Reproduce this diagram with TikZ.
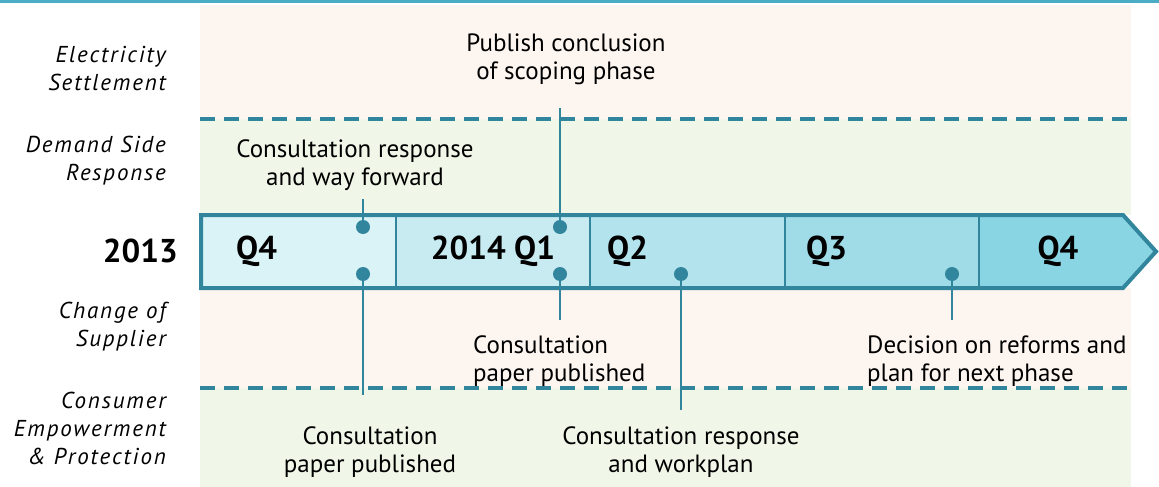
\documentclass[tikz,border=0pt]{standalone}
\usepackage{fontspec}
\setmainfont{PT Sans}
\newfontfamily\lanefont[LetterSpace=8]{PT Sans}
\usetikzlibrary{positioning,calc}

\definecolor{topbar}{RGB}{75,172,198}
\definecolor{tlrule}{RGB}{49,133,156}
\definecolor{peach}{RGB}{253,245,240}
\definecolor{leaf}{RGB}{240,247,232}
\definecolor{qa}{RGB}{218,243,246}
\definecolor{qb}{RGB}{200,235,241}
\definecolor{qc}{RGB}{179,228,238}
\definecolor{qd}{RGB}{160,220,231}
\definecolor{qe}{RGB}{138,213,227}

\begin{document}
\begin{tikzpicture}[
  x=1pt, y=-1pt,
  font=\fontsize{25}{28}\selectfont,
  quarter/.style={minimum height=73pt, inner sep=0pt, outer sep=0pt},
  qlbl/.style={font=\fontsize{33}{36}\selectfont\bfseries, inner sep=0pt},
  pin/.style={circle, fill=tlrule, inner sep=0pt, minimum size=14pt},
  stem/.style={line width=2.5pt, tlrule},
  note/.style={align=center, inner sep=0pt},
  lane/.style={font=\fontsize{23}{28}\selectfont\lanefont\itshape, align=right, anchor=east, inner sep=0pt},
  divider/.style={line width=2.5pt, tlrule},
  outline/.style={line width=4pt, tlrule},
  lanerule/.style={line width=4pt, tlrule, dash pattern=on 15pt off 9pt},
]
\useasboundingbox (0,0) rectangle (1159,487);

% Background lanes
\fill[topbar] (0,0) rectangle (1159,3.5);
\fill[peach] (200,5) rectangle (1131,119);
\fill[leaf] (200,119) rectangle (1131,215);
\fill[peach] (200,288) rectangle (1131,388);
\fill[leaf] (200,388) rectangle (1131,487);
\draw[lanerule] (200,119) -- (1131,119);
\draw[lanerule] (200,388) -- (1131,388);

% Lane names
\node[lane] (elec) at (166,68) {Electricity\\Settlement};
\node[lane] (dsr) at (166,161) {Demand Side\\Response};
\node[lane, font=\fontsize{33}{36}\selectfont\bfseries] (year) at (178,251) {2013};
\node[lane] (cos) at (166,327) {Change of\\Supplier};
\node[lane] (cep) at (166,428) {Consumer\\Empowerment\\\& Protection};

% Timeline quarters
\node[quarter, fill=qa, minimum width=195pt] (q4a) at (298.5,251.5) {};
\node[quarter, fill=qb, minimum width=194pt, right=0pt of q4a] (q1) {};
\node[quarter, fill=qc, minimum width=195pt, right=0pt of q1] (q2) {};
\node[quarter, fill=qd, minimum width=194pt, right=0pt of q2] (q3) {};
\node[quarter, fill=qe, minimum width=144pt, right=0pt of q3] (q4b) {};
\coordinate (tip) at ($(q4b.east)+(33,0)$);
\fill[qe] (q4b.north east) -- (tip) -- (q4b.south east) -- cycle;

\foreach \a in {q4a,q1,q2,q3}
  \draw[divider] (\a.north east) -- (\a.south east);
\draw[outline] (q4a.north west) -- (q4b.north east) -- (tip) -- (q4b.south east) -- (q4a.south west) -- cycle;

\node[qlbl, anchor=west, right=35pt of q4a.west] (t4a) {Q4};
\node[qlbl] (t1) at (q1) {2014 Q1};
\node[qlbl, anchor=west, right=17pt of q2.west] (t2) {Q2};
\node[qlbl, anchor=west, right=21pt of q3.west] (t3) {Q3};
\node[qlbl] (t4b) at ($(q4b)+(7,0)$) {Q4};

% Milestones
\node[pin] (pq4u) at (363,227) {};
\node[pin] (pq4d) at (363,274) {};
\node[pin] (pq1u) at (560,227) {};
\node[pin] (pq1d) at (560,274) {};
\node[pin] (pq2d) at (681,274) {};
\node[pin] (pq3d) at (952,274) {};

\node[note] (nq4u) at (355,165) {Consultation response\\and way forward};
\node[note] (nq1u) at (566,59) {Publish conclusion\\of scoping phase};
\node[note] (nq4d) at (370,452) {Consultation\\paper published};
\node[note, align=left, anchor=west] (nq1d) at (473,361) {Consultation\\paper published};
\node[note] (nq2d) at (681,452) {Consultation response\\and workplan};
\node[note, align=left, anchor=west] (nq3d) at (867,361) {Decision on reforms and\\plan for next phase};

\coordinate (sq4u) at (363,199);
\coordinate (sq1u) at (560,108);
\coordinate (sq4d) at (363,395);
\coordinate (sq1d) at (560,320);
\coordinate (sq2d) at (681,410);
\coordinate (sq3d) at (952,320);

\foreach \p/\s in {pq4u/sq4u,pq1u/sq1u,pq4d/sq4d,pq1d/sq1d,pq2d/sq2d,pq3d/sq3d}
  \draw[stem] (\p.center) -- (\s);

\end{tikzpicture}
\end{document}
